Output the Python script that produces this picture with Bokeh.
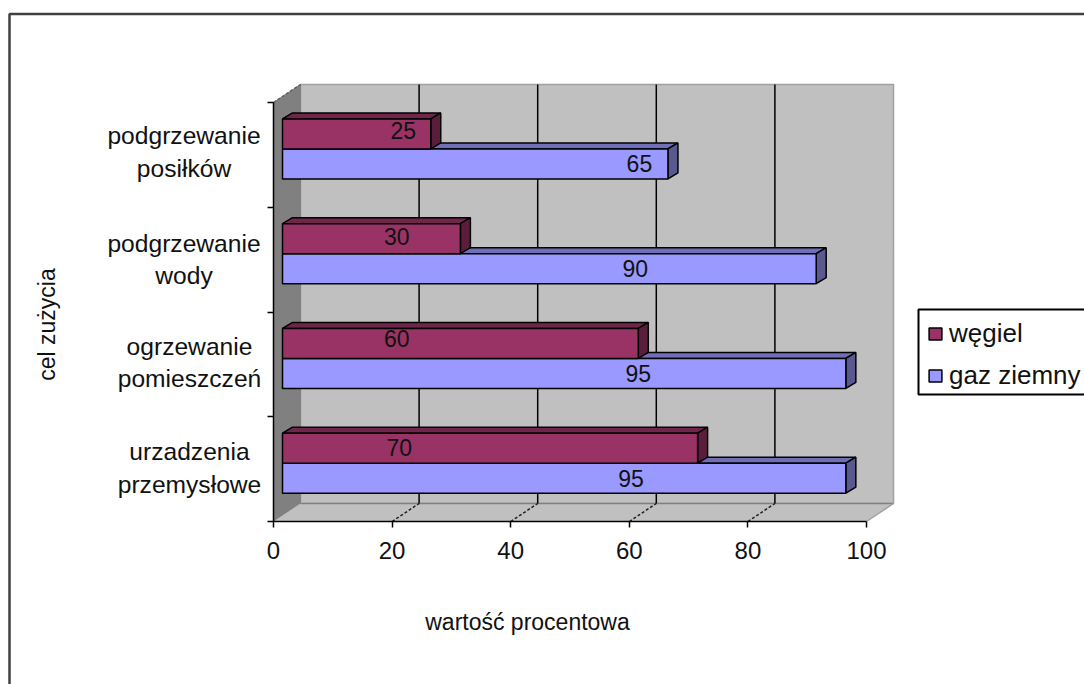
from bokeh.plotting import figure
from bokeh.models import (Range1d, FixedTicker, Legend, LegendItem, Label, BoxAnnotation)
from bokeh.core.properties import value
from bokeh.embed import file_html
from bokeh.resources import INLINE

categories = ["urzadzenia\nprzemysłowe", "ogrzewanie\npomieszczeń", "podgrzewanie\nwody", "podgrzewanie\nposiłków"]
wegiel = [70, 60, 30, 25]
gaz = [95, 95, 90, 65]
series_names = ["węgiel", "gaz ziemny"]
x_ticks = [0, 20, 40, 60, 80, 100]
x_title = "wartość procentowa"
y_title = "cel zużycia"

# label placement
wegiel_label_x = [21.2, 20.8, 20.8, 21.9]
gaz_label_x = [60.3, 61.5, 61.0, 61.7]
wegiel_label_lift = [1, 5, 2, 3]  # px
category_label_px = [189, 189, 183.5, 183.5]
category_label_lift = [1, 2, 0, 3]  # px

FONT = "Liberation Sans"
W, H = 1084, 684
X0, Y0 = 273, 521          # pixel position of the value/category origin
PXX = 100 / 593
PXY = 4 / 419
WALL_DX, WALL_DY = 27 * PXX, 18 * PXY
BAR_X0, BAR_LIFT = 9 * PXX, 6 * PXY
BAR_H = 30 * PXY
DX, DY = 10 * PXX, 6 * PXY

p = figure(width=W, height=H, output_backend="svg", toolbar_location=None,
           x_range=Range1d(-X0 * PXX, (W - X0) * PXX), y_range=Range1d(-(H - Y0) * PXY, Y0 * PXY),
           min_border=0, background_fill_color="white", border_fill_color="white",
           outline_line_color=None)
p.grid.visible = False

xend = 100 + WALL_DX
ytop = 4 + WALL_DY
# walls and floor
p.patch([WALL_DX, xend, xend, WALL_DX], [WALL_DY, WALL_DY, ytop, ytop],
        fill_color="#C0C0C0", line_color="#A0A0A0", line_width=1.5)
p.patch([0, WALL_DX, WALL_DX, 0], [0, WALL_DY, ytop, 4], fill_color="#808080", line_color="#808080")
p.patch([0, 100, xend, WALL_DX], [0, 0, WALL_DY, WALL_DY], fill_color="#C0C0C0", line_color=None)
p.line([WALL_DX, xend], [WALL_DY, WALL_DY], line_color="#808080", line_width=1.5)
p.line([100, xend], [0, WALL_DY], line_color="#A0A0A0", line_width=1.5)
p.line([0, WALL_DX], [4, ytop], line_color="#606060", line_width=1.5, line_dash="3 2")
# gridlines on the wall, and their steps on the floor
inner = x_ticks[1:-1]
p.segment([v + WALL_DX for v in inner], [WALL_DY] * 4, [v + WALL_DX for v in inner], [ytop] * 4,
          line_color="#000000", line_width=1.5)
p.segment(inner, [0] * 4, [v + WALL_DX for v in inner], [WALL_DY] * 4,
          line_color="#202020", line_width=1.5, line_dash="3 2")


def bar(vals, bottoms, front, top, side):
    rights = [BAR_X0 + v for v in vals]
    uppers = [b + BAR_H for b in bottoms]
    p.patches([[BAR_X0, BAR_X0 + DX, r + DX, r] for r in rights],
              [[u, u + DY, u + DY, u] for u in uppers],
              fill_color=top, line_color="black", line_width=1.5)
    p.patches([[r, r + DX, r + DX, r] for r in rights],
              [[b, b + DY, u + DY, u] for b, u in zip(bottoms, uppers)],
              fill_color=side, line_color="black", line_width=1.5)
    return p.quad(left=[BAR_X0] * len(vals), right=rights, bottom=bottoms, top=uppers,
                  fill_color=front, line_color="black", line_width=1.5)


centers = [k + 0.5 + BAR_LIFT for k in range(len(categories))]
r_gaz = bar(gaz, [c - BAR_H for c in centers], "#9999FF", "#6F6FB8", "#59598F")
r_weg = bar(wegiel, centers, "#993366", "#70264B", "#5A1E3C")

# data labels
p.text(x=wegiel_label_x, y=[c + BAR_H / 2 + l * PXY for c, l in zip(centers, wegiel_label_lift)],
       text=[str(v) for v in wegiel], text_font=value(FONT), text_font_size="23px",
       text_align="center", text_baseline="middle", text_color="#111111")
p.text(x=gaz_label_x, y=[c - BAR_H / 2 for c in centers],
       text=[str(v) for v in gaz], text_font=value(FONT), text_font_size="23px",
       text_align="center", text_baseline="middle", text_color="#111111")

# axes sit inside the (whole-canvas) frame
ax = p.xaxis[0]
ax.fixed_location = 0
ax.ticker = FixedTicker(ticks=x_ticks)
ax.bounds = (0, 100)
ax.axis_line_color = "black"
ax.axis_line_width = 1.5
ax.major_tick_line_color = "black"
ax.major_tick_line_width = 1.5
ax.major_tick_out = 6
ax.major_tick_in = 0
ax.minor_tick_line_color = None
ax.major_label_standoff = 14
ax.major_label_text_font = FONT
ax.major_label_text_font_size = "24px"
ax.major_label_text_color = "#111111"

ay = p.yaxis[0]
ay.fixed_location = 0
ay.ticker = FixedTicker(ticks=[], minor_ticks=list(range(len(categories) + 1)))
ay.bounds = (0, len(categories))
ay.axis_line_color = "black"
ay.axis_line_width = 1.5
ay.minor_tick_line_color = "black"
ay.minor_tick_line_width = 1.5
ay.minor_tick_out = 6
ay.minor_tick_in = 0

# category labels (centred line by line)
for k, cat in enumerate(categories):
    p.add_layout(Label(x=(category_label_px[k] - X0) * PXX, y=k + 0.5 + category_label_lift[k] * PXY,
                       x_units="data", y_units="data", text=cat,
                       text_font=FONT, text_font_size="24.6px", text_align="center",
                       text_baseline="middle", text_color="#111111"))

# axis titles
p.add_layout(Label(x=527, y=H - 621, x_units="screen", y_units="screen", text=x_title,
                   text_font=FONT, text_font_size="23px", text_align="center",
                   text_baseline="middle", text_color="#111111"))
p.add_layout(Label(x=46, y=H - 324, x_units="screen", y_units="screen", text=y_title, angle=90,
                   angle_units="deg", text_font=FONT, text_font_size="23px", text_align="center",
                   text_baseline="middle", text_color="#111111"))

# outer border of the chart area, running off the picture
p.add_layout(BoxAnnotation(left=9, right=W + 50, top=H - 13.5, bottom=-50, left_units="screen",
                           right_units="screen", top_units="screen", bottom_units="screen",
                           fill_color=None, line_color="#404040", line_width=2.5, line_alpha=1))
# legend frame
p.add_layout(BoxAnnotation(left=918, right=W + 50, top=H - 309, bottom=H - 394, left_units="screen",
                           right_units="screen", top_units="screen", bottom_units="screen",
                           fill_color="white", fill_alpha=1, line_color="black", line_width=2, line_alpha=1))

legend = Legend(items=[LegendItem(label=series_names[0], renderers=[r_weg]),
                       LegendItem(label=series_names[1], renderers=[r_gaz])],
                location=(927, H - 390.5), orientation="vertical",
                border_line_color=None, background_fill_color=None, padding=10, margin=0, spacing=11,
                glyph_width=16, glyph_height=15, label_standoff=6, label_height=15,
                label_text_font=FONT, label_text_font_size="26px", label_text_color="#111111")
p.add_layout(legend, "center")

open("out.html", "w").write(file_html(p, INLINE))
